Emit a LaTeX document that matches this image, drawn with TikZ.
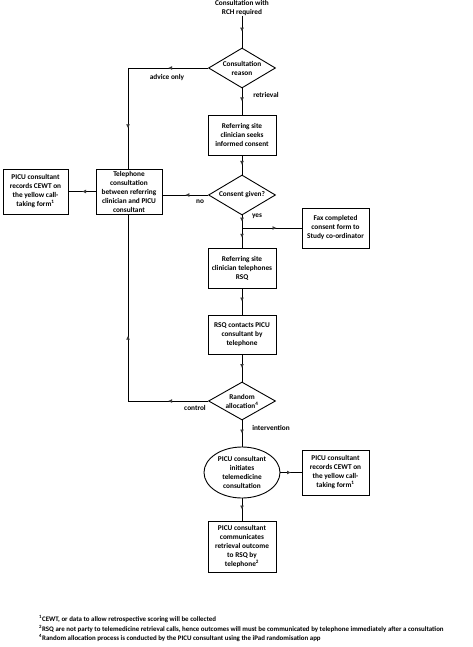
\documentclass[tikz,border=0pt]{standalone}
\usepackage{fontspec}
\setmainfont{Carlito}
\usetikzlibrary{shapes.geometric,arrows.meta,decorations.markings}
\begin{document}
\begin{tikzpicture}[x=1pt,y=-1pt,
  every node/.style={font=\bfseries\fontsize{7.3}{9}\selectfont},
  box/.style={draw,line width=0.9pt,align=center,inner sep=1pt,minimum width=68pt},
  dia/.style={draw,line width=0.9pt,diamond,inner sep=0pt,minimum width=67pt,minimum height=40pt},
  dtext/.style={align=center,inner sep=0pt},
  ell/.style={draw,line width=0.9pt,ellipse,inner sep=0pt,minimum width=76pt,minimum height=51pt,align=center},
  lab/.style={inner sep=0pt},
  conn/.style={line width=0.9pt,postaction={decorate},decoration={markings,mark=at position #1 with {\arrow[gray!45!black]{Latex[length=4pt,width=4pt]}}}},
  conn/.default=0.5
]
\useasboundingbox (0,0) rectangle (473,647);

\node[align=center,inner sep=0pt] (start) at (242,8) {Consultation with\\RCH required};
\node[dia] (d1) at (242,68) {};
\node[dtext] at (d1) {Consultation\\reason};
\node[box,minimum height=40pt] (b1) at (242,135) {Referring site\\clinician seeks\\informed consent};
\node[dia] (d2) at (242,195) {};
\node[dtext] at (d2) {Consent given?};
\node[box,minimum height=45pt,minimum width=66pt] (tel) at (129,191.5) {Telephone\\consultation\\between referring\\clinician and PICU\\consultant};
\node[box,minimum height=45pt,minimum width=65pt] (cewt1) at (35.5,191.5) {PICU consultant\\records CEWT on\\the yellow call-\\taking form\textsuperscript{1}};
\node[box,minimum height=40pt,minimum width=67pt] (fax) at (335.5,228) {Fax completed\\consent form to\\Study co-ordinator};
\node[box,minimum height=40pt] (b2) at (242,268) {Referring site\\clinician telephones\\RSQ};
\node[box,minimum height=39pt] (b3) at (242,334.5) {RSQ contacts PICU\\consultant by\\telephone};
\node[dia,minimum height=38pt] (d3) at (242,401) {};
\node[dtext] at (d3) {Random\\allocation\textsuperscript{4}};
\node[ell] (e1) at (242,472.5) {PICU consultant\\initiates\\telemedicine\\consultation};
\node[box,minimum height=45pt,minimum width=67pt] (cewt2) at (335.5,472.5) {PICU consultant\\records CEWT on\\the yellow call-\\taking form\textsuperscript{1}};
\node[box,minimum height=51pt] (b4) at (242,546.5) {PICU consultant\\communicates\\retrieval outcome\\to RSQ by\\telephone\textsuperscript{2}};

\coordinate (c1) at (128,68);
\coordinate (c2) at (242,228);
\coordinate (c3) at (128,401);

\draw[conn] (start) -- (d1.north);
\draw[conn] (d1.west) -- (c1);
\draw[conn=0.6] (c1) -- (tel.north -| c1);
\draw[conn] (d1.south) -- (b1.north);
\draw[conn] (b1.south) -- (d2.north);
\draw[conn] (d2.west) -- (tel.east |- d2.west);
\draw[conn] (tel.west) -- (cewt1.east);
\draw[conn] (d2.south) -- (c2);
\draw[conn] (c2) -- (b2.north);
\draw[conn=0.58] (c2) -- (fax.west);
\draw[conn] (b2.south) -- (b3.north);
\draw[conn] (b3.south) -- (d3.north);
\draw[conn] (d3.west) -- (c3);
\draw[conn=0.35] (c3) -- (tel.south -| c3);
\draw[conn] (d3.south) -- (e1.north);
\draw[conn] (e1.east) -- (cewt2.west);
\draw[conn] (e1.south) -- (b4.north);

\node[lab] (l1) at (167,78) {advice only};
\node[lab] (l2) at (266,95) {retrieval};
\node[lab] (l3) at (200,202) {no};
\node[lab] (l4) at (257,216) {yes};
\node[lab] (l5) at (195,408) {control};
\node[lab] (l6) at (271,428) {intervention};

\node[anchor=north west,align=left,inner sep=0pt,font=\bfseries\fontsize{6.9}{9.8}\selectfont] (fn) at (39,615) {\textsuperscript{1}CEWT, or data to allow retrospective scoring will be collected\\
\textsuperscript{2}RSQ are not party to telemedicine retrieval calls, hence outcomes will must be communicated by telephone immediately after a consultation\\
\textsuperscript{4}Random allocation process is conducted by the PICU consultant using the iPad randomisation app};
\end{tikzpicture}
\end{document}
